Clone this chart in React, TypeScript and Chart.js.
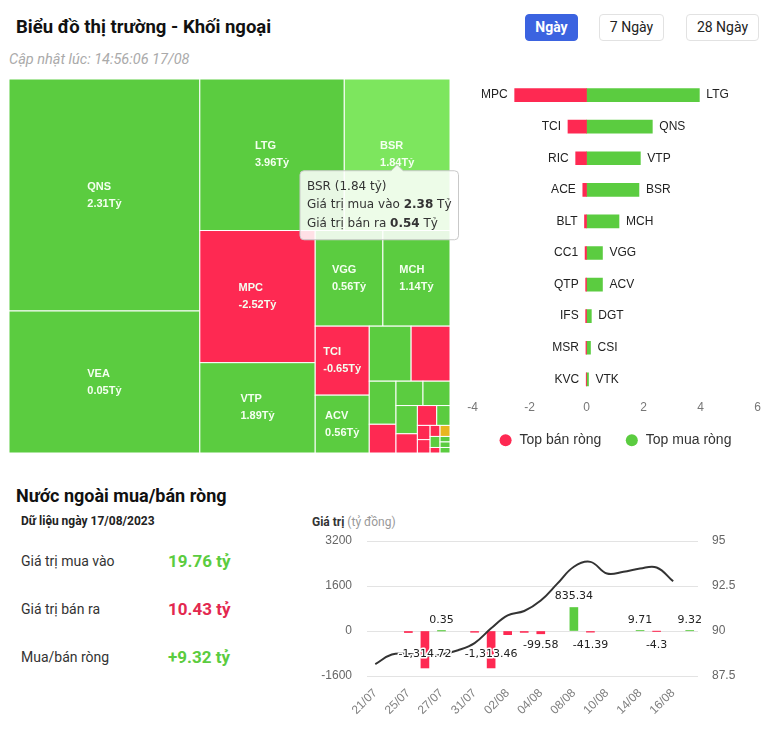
import React, { useEffect, useRef } from "react";
import { Chart, registerables } from "chart.js";
Chart.register(...registerables);

// ---------------- DATA ----------------
// Treemap (size = total traded value, colour = net value), tỷ đồng
const tmNames = ["QNS", "VEA", "LTG", "BSR", "MPC", "VTP", "VGG", "MCH", "TCI", "ACV", "DGT", "RIC", "CSI", "ACE", "VTK", "", "", "BLT", "CC1", "", "QTP", "IFS", "MSR", "", "", "KVC", "", "", ""];
const tmTotals = [8.07, 4.94, 3.99, 2.92, 2.78, 1.9, 1.18, 1.17, 0.68, 0.57, 0.42, 0.39, 0.21, 0.14, 0.12, 0.12, 0.11, 0.075, 0.07, 0.048, 0.033, 0.031, 0.02, 0.02, 0.02, 0.01, 0.01, 0.01, 0.01];
const tmNets = [2.31, 0.05, 3.96, 1.84, -2.52, 1.89, 0.56, 1.14, -0.65, 0.56, 0.17, -0.38, 0.14, -0.13, 0.07, 0.04, 0.03, -0.07, -0.05, 0.02, -0.03, -0.03, -0.02, 0, 0.01, -0.01, 0.01, 0.01, 0.01];
const tmHovered = "BSR";

// Top net sellers / buyers
const sellNames = ["MPC", "TCI", "RIC", "ACE", "BLT", "CC1", "QTP", "IFS", "MSR", "KVC"];
const sellValues = [-2.52, -0.65, -0.38, -0.13, -0.07, -0.05, -0.03, -0.03, -0.02, -0.01];
const buyNames = ["LTG", "QNS", "VTP", "BSR", "MCH", "VGG", "ACV", "DGT", "CSI", "VTK"];
const buyValues = [3.96, 2.31, 1.89, 1.84, 1.14, 0.56, 0.56, 0.17, 0.14, 0.07];

// Daily foreign net value (bars) and index (line)
const dates = ["21/07", "24/07", "25/07", "26/07", "27/07", "28/07", "31/07", "01/08", "02/08", "03/08", "04/08", "07/08", "08/08", "09/08", "10/08", "11/08", "14/08", "15/08", "16/08", "17/08"];
const netValues: (number | null)[] = [null, null, -55, -1314.72, 0.35, null, -45, -1313.46, -130, -50, -99.58, null, 835.34, -41.39, null, null, 9.71, -4.3, null, 9.32];
const indexValues: (number | null)[] = [88.16, 88.69, 88.72, 88.6, 88.7, 88.93, 89.33, 90.15, 90.87, 91.11, 91.69, 92.63, 93.57, 93.84, 93.19, 93.29, 93.47, 93.53, 92.76, null];
const labelledDates = ["26/07", "27/07", "01/08", "04/08", "08/08", "09/08", "14/08", "15/08", "17/08"];

// Summary
const summaryDate = "17/08/2023";
const buyTotal = 19.76;
const sellTotal = 10.43;
const netTotal = 9.32;

// ---------------- STYLE ----------------
const GREEN = "#5bcc40";
const HOVER_GREEN = "#7de65e";
const RED = "#fe2952";
const YELLOW = "#e9b61f";
const SANS = "'Liberation Sans', Arial, sans-serif";
const DEJAVU = "'DejaVu Sans', sans-serif";

type R = { x: number; y: number; w: number; h: number };
function squarify(values: number[], W: number, H: number): R[] {
  const total = values.reduce((s, v) => s + v, 0);
  const areas = values.map((v) => (v * W * H) / total);
  const out: R[] = [];
  let x = 0, y = 0, w = W, h = H, i = 0;
  const worst = (row: number[], s: number) => {
    const sum = row.reduce((a, b) => a + b, 0);
    const mx = Math.max(...row), mn = Math.min(...row);
    return Math.max((s * s * mx) / (sum * sum), (sum * sum) / (s * s * mn));
  };
  while (i < areas.length) {
    const s = Math.min(w, h);
    let row = [areas[i]];
    let j = i + 1;
    while (j < areas.length) {
      const cand = row.concat(areas[j]);
      if (worst(cand, s) > worst(row, s)) break;
      row = cand;
      j++;
    }
    const sum = row.reduce((a, b) => a + b, 0);
    if (w >= h) {
      const cw = sum / h;
      let yy = y;
      for (const a of row) { const hh = a / cw; out.push({ x, y: yy, w: cw, h: hh }); yy += hh; }
      x += cw; w -= cw;
    } else {
      const rh = sum / w;
      let xx = x;
      for (const a of row) { const ww = a / rh; out.push({ x: xx, y, w: ww, h: rh }); xx += ww; }
      y += rh; h -= rh;
    }
    i = j;
  }
  return out;
}

const treemapPlugin = {
  id: "treemapCells",
  afterDatasetsDraw(chart: any) {
    const { ctx, chartArea: a, scales } = chart;
    const W = a.right - a.left, H = a.bottom - a.top;
    const rects = squarify(tmTotals, W, H);
    const xs = scales.x, ys = scales.y;
    let hov: any = null;
    ctx.save();
    rects.forEach((r, i) => {
      const x0 = xs.getPixelForValue(r.x / W), x1 = xs.getPixelForValue((r.x + r.w) / W);
      const y0 = ys.getPixelForValue(r.y / H), y1 = ys.getPixelForValue((r.y + r.h) / H);
      const net = tmNets[i];
      let col = net > 0 ? GREEN : net < 0 ? RED : YELLOW;
      if (tmNames[i] === tmHovered) col = HOVER_GREEN;
      ctx.fillStyle = col;
      ctx.fillRect(x0, y0, x1 - x0, y1 - y0);
      ctx.strokeStyle = "#ffffff";
      ctx.lineWidth = 1;
      ctx.strokeRect(x0, y0, x1 - x0, y1 - y0);
      const cw = x1 - x0, chh = y1 - y0;
      if (cw >= 50 && chh >= 40 && tmNames[i]) {
        ctx.font = `bold 11px ${SANS}`;
        const l1 = tmNames[i], l2 = net.toFixed(2) + "Tỷ";
        const mw = Math.max(ctx.measureText(l1).width, ctx.measureText(l2).width);
        const cx = (x0 + x1) / 2, cy = (y0 + y1) / 2;
        ctx.fillStyle = "#f4fff0";
        ctx.textAlign = "left";
        ctx.textBaseline = "middle";
        ctx.fillText(l1, cx - mw / 2, cy - 8.5);
        ctx.fillText(l2, cx - mw / 2, cy + 8.5);
      }
      if (tmNames[i] === tmHovered) hov = { cx: (x0 + x1) / 2, cy: (y0 + y1) / 2, i };
    });
    ctx.restore();
    if (hov) drawTooltip(ctx, hov.cx, hov.cy + 10, chart.width, hov.i);
  },
};

function drawTooltip(ctx: CanvasRenderingContext2D, cx: number, tipY: number, canvasW: number, i: number) {
  const total = tmTotals[i], net = tmNets[i];
  const buy = (total + net) / 2, sell = (total - net) / 2;
  const lines = [
    [{ t: `${tmNames[i]} (${net.toFixed(2)} tỷ)`, b: false }],
    [{ t: "Giá trị mua vào ", b: false }, { t: buy.toFixed(2), b: true }, { t: " Tỷ", b: false }],
    [{ t: "Giá trị bán ra ", b: false }, { t: sell.toFixed(2), b: true }, { t: " Tỷ", b: false }],
  ];
  const font = (b: boolean) => `${b ? "bold " : ""}12px ${DEJAVU}`;
  ctx.save();
  let maxW = 0;
  lines.forEach((ln) => {
    let w = 0;
    ln.forEach((p) => { ctx.font = font(p.b); w += ctx.measureText(p.t).width; });
    maxW = Math.max(maxW, w);
  });
  const bw = maxW + 14, bh = 69, caret = 6, rad = 4;
  let bx = cx - bw / 2;
  if (bx + bw > canvasW - 1.5) bx = canvasW - 1.5 - bw;
  const by = tipY + caret;
  ctx.beginPath();
  ctx.moveTo(bx + rad, by);
  ctx.lineTo(cx - caret, by);
  ctx.lineTo(cx, by - caret);
  ctx.lineTo(cx + caret, by);
  ctx.lineTo(bx + bw - rad, by);
  ctx.quadraticCurveTo(bx + bw, by, bx + bw, by + rad);
  ctx.lineTo(bx + bw, by + bh - rad);
  ctx.quadraticCurveTo(bx + bw, by + bh, bx + bw - rad, by + bh);
  ctx.lineTo(bx + rad, by + bh);
  ctx.quadraticCurveTo(bx, by + bh, bx, by + bh - rad);
  ctx.lineTo(bx, by + rad);
  ctx.quadraticCurveTo(bx, by, bx + rad, by);
  ctx.closePath();
  ctx.fillStyle = "rgba(255,255,255,0.86)";
  ctx.fill();
  ctx.strokeStyle = "#c9c9c9";
  ctx.lineWidth = 1;
  ctx.stroke();
  ctx.fillStyle = "#333";
  ctx.textBaseline = "middle";
  ctx.textAlign = "left";
  lines.forEach((ln, k) => {
    let x = bx + 7;
    const y = by + 16 + k * 18.5;
    ln.forEach((p) => { ctx.font = font(p.b); ctx.fillText(p.t, x, y); x += ctx.measureText(p.t).width; });
  });
  ctx.restore();
}

const barNamePlugin = {
  id: "barNames",
  beforeDraw(chart: any) {
    // place the legend row at a fixed distance below the plot area
    const lg = chart.legend;
    if (!lg) return;
    const pad = lg.options.labels.padding;
    const desiredCenter = chart.chartArea.bottom + 45.2;
    const currentCenter = lg.top + pad + 7;
    const d = desiredCenter - currentCenter;
    lg.top += d;
    lg.bottom += d;
  },
  afterDatasetsDraw(chart: any) {
    const { ctx } = chart;
    const m0 = chart.getDatasetMeta(0), m1 = chart.getDatasetMeta(1);
    ctx.save();
    ctx.font = `12px ${SANS}`;
    ctx.fillStyle = "#222";
    ctx.textBaseline = "middle";
    sellNames.forEach((n, i) => {
      const el = m0.data[i];
      ctx.textAlign = "right";
      ctx.fillText(n, Math.min(el.x, el.base) - 7, el.y);
    });
    buyNames.forEach((n, i) => {
      const el = m1.data[i];
      ctx.textAlign = "left";
      ctx.fillText(n, Math.max(el.x, el.base) + 7, el.y);
    });
    ctx.restore();
  },
};

const valueLabelPlugin = {
  id: "valueLabels",
  afterDatasetsDraw(chart: any) {
    const { ctx } = chart;
    const meta = chart.getDatasetMeta(1);
    const zero = chart.scales.y.getPixelForValue(0);
    ctx.save();
    ctx.font = `11px ${DEJAVU}`;
    ctx.textAlign = "center";
    ctx.textBaseline = "middle";
    ctx.lineJoin = "round";
    netValues.forEach((v, i) => {
      if (v === null || !labelledDates.includes(dates[i])) return;
      const el = meta.data[i];
      const txt = v.toLocaleString("en-US", { maximumFractionDigits: 2 });
      let y: number;
      if (v >= 0) y = Math.min(el.y, zero) - 11;
      else y = Math.max(zero + 14, (el.y + zero) / 2 + 5);
      ctx.strokeStyle = "#fff";
      ctx.lineWidth = 3;
      ctx.strokeText(txt, el.x, y);
      ctx.fillStyle = "#222";
      ctx.fillText(txt, el.x, y);
    });
    ctx.restore();
  },
};

function TreemapChart() {
  const ref = useRef<HTMLCanvasElement>(null);
  useEffect(() => {
    const c = new Chart(ref.current!, {
      type: "scatter",
      data: { datasets: [{ data: [] }] },
      options: {
        animation: false,
        responsive: false,
        maintainAspectRatio: false,
        events: [],
        layout: { padding: { left: 9, right: 10, top: 4, bottom: 0 } },
        plugins: { legend: { display: false }, tooltip: { enabled: false } },
        scales: {
          x: { type: "linear", min: 0, max: 1, display: false },
          y: { type: "linear", min: 0, max: 1, reverse: true, display: false },
        },
      },
      plugins: [treemapPlugin],
    } as any);
    return () => c.destroy();
  }, []);
  return <canvas ref={ref} width={460} height={378} style={{ position: "absolute", left: 0, top: 75, width: 460, height: 378 }} />;
}

function TopBarChart() {
  const ref = useRef<HTMLCanvasElement>(null);
  useEffect(() => {
    const c = new Chart(ref.current!, {
      type: "bar",
      data: {
        labels: buyNames,
        datasets: [
          { label: "Top bán ròng", data: sellValues, backgroundColor: RED, barThickness: 13 },
          { label: "Top mua ròng", data: buyValues, backgroundColor: GREEN, barThickness: 13 },
        ],
      },
      options: {
        animation: false,
        responsive: false,
        maintainAspectRatio: false,
        indexAxis: "y",
        events: [],
        layout: { padding: { left: 12.5, right: 12.5, top: 4.3, bottom: 0 } },
        plugins: {
          tooltip: { enabled: false },
          legend: {
            position: "bottom",
            labels: { usePointStyle: true, pointStyle: "circle", boxWidth: 14, boxHeight: 8.5, padding: 23.5, color: "#333", font: { size: 14, family: SANS } },
          },
        },
        scales: {
          x: {
            stacked: true, min: -4, max: 6,
            ticks: { stepSize: 2, color: "#777", font: { size: 12, family: SANS }, padding: 5 },
            grid: { display: false, drawTicks: false },
            border: { display: false },
          },
          y: { stacked: true, display: false },
        },
      },
      plugins: [barNamePlugin],
    } as any);
    return () => c.destroy();
  }, []);
  return <canvas ref={ref} width={310} height={392} style={{ position: "absolute", left: 460, top: 75, width: 310, height: 392 }} />;
}

function NetFlowChart() {
  const ref = useRef<HTMLCanvasElement>(null);
  useEffect(() => {
    const c = new Chart(ref.current!, {
      type: "bar",
      data: {
        labels: dates,
        datasets: [
          { type: "line", label: "Chỉ số", data: indexValues, yAxisID: "y1", borderColor: "#333", borderWidth: 2, pointRadius: 0, tension: 0.4, fill: false },
          { type: "bar", label: "Giá trị", data: netValues, yAxisID: "y", backgroundColor: netValues.map((v) => ((v ?? 0) >= 0 ? GREEN : RED)), barThickness: 8 },
        ],
      },
      options: {
        animation: false,
        responsive: false,
        maintainAspectRatio: false,
        events: [],
        layout: { padding: { top: 11, left: 0, right: 0, bottom: 0 } },
        plugins: { legend: { display: false }, tooltip: { enabled: false } },
        scales: {
          x: {
            grid: { display: false, drawTicks: false },
            border: { display: false },
            ticks: { autoSkip: false, maxRotation: 45, minRotation: 45, color: "#808080", font: { size: 12, family: SANS }, padding: 10, callback: (_v: any, i: number) => (i % 2 === 0 ? dates[i] : "") },
            afterFit: (s: any) => { s.height = 56; },
          },
          y: {
            position: "left", min: -1600, max: 3200,
            ticks: { stepSize: 1600, color: "#666", font: { size: 12, family: SANS }, padding: 3, callback: (v: any) => String(v) },
            grid: { color: "#e3e3e3", drawTicks: true, tickLength: 12, tickColor: "rgba(0,0,0,0)" },
            border: { display: false },
            afterFit: (s: any) => { s.width = 67; },
          },
          y1: {
            position: "right", min: 87.5, max: 95,
            ticks: { stepSize: 2.5, color: "#666", font: { size: 12, family: SANS }, padding: 3, callback: (v: any) => String(v) },
            grid: { display: false, drawTicks: true, tickLength: 11, tickColor: "rgba(0,0,0,0)" },
            border: { display: false },
            afterFit: (s: any) => { s.width = 72; },
          },
        },
      },
      plugins: [valueLabelPlugin],
    } as any);
    return () => c.destroy();
  }, []);
  return <canvas ref={ref} width={470} height={202} style={{ position: "absolute", left: 300, top: 530, width: 470, height: 202 }} />;
}

const abs = (s: React.CSSProperties): React.CSSProperties => ({ position: "absolute", whiteSpace: "nowrap", ...s });
const fmt = (v: number) => v.toFixed(2);

export default function App() {
  const btn = (left: number, width: number, label: string, active: boolean) => (
    <div style={abs({ left, top: 14, width, height: 27, boxSizing: "border-box", borderRadius: 4, border: active ? "1px solid #3b63e0" : "1px solid #e2e2e2", background: active ? "#3b63e0" : "#fff", color: active ? "#fff" : "#222", fontWeight: active ? 700 : 400, fontSize: 14, lineHeight: "25px", textAlign: "center", fontFamily: "Roboto, sans-serif" })}>{label}</div>
  );
  return (
    <div style={{ position: "absolute", left: 0, top: 0, width: 770, height: 732, overflow: "hidden", background: "#fff", fontFamily: "Roboto, sans-serif" }}>
      <div style={abs({ left: 16, top: 16, fontSize: 18.5, fontWeight: 700, lineHeight: "22px", color: "#111" })}>Biểu đồ thị trường - Khối ngoại</div>
      <div style={abs({ left: 9, top: 51, fontSize: 14.5, fontStyle: "italic", lineHeight: "18px", color: "#aaa" })}>Cập nhật lúc: 14:56:06 17/08</div>
      {btn(525, 53, "Ngày", true)}
      {btn(599, 65, "7 Ngày", false)}
      {btn(686, 73, "28 Ngày", false)}
      <TreemapChart />
      <TopBarChart />
      <div style={abs({ left: 16, top: 485, fontSize: 18, fontWeight: 700, lineHeight: "22px", color: "#111" })}>Nước ngoài mua/bán ròng</div>
      <div style={abs({ left: 21, top: 513, fontSize: 12, fontWeight: 700, lineHeight: "16px", color: "#222" })}>Dữ liệu ngày {summaryDate}</div>
      <div style={abs({ left: 21, top: 552, fontSize: 14, lineHeight: "18px", color: "#333" })}>Giá trị mua vào</div>
      <div style={abs({ left: 168, top: 550, fontSize: 17, fontWeight: 700, lineHeight: "22px", color: GREEN })}>{fmt(buyTotal)} tỷ</div>
      <div style={abs({ left: 21, top: 600, fontSize: 14, lineHeight: "18px", color: "#333" })}>Giá trị bán ra</div>
      <div style={abs({ left: 168, top: 598, fontSize: 17, fontWeight: 700, lineHeight: "22px", color: "#e3284f" })}>{fmt(sellTotal)} tỷ</div>
      <div style={abs({ left: 21, top: 648, fontSize: 14, lineHeight: "18px", color: "#333" })}>Mua/bán ròng</div>
      <div style={abs({ left: 168, top: 646, fontSize: 17, fontWeight: 700, lineHeight: "22px", color: GREEN })}>{(netTotal >= 0 ? "+" : "") + fmt(netTotal)} tỷ</div>
      <div style={abs({ left: 312, top: 514, fontSize: 12, lineHeight: "16px", color: "#999" })}>
        <span style={{ fontWeight: 700, color: "#333" }}>Giá trị</span> (tỷ đồng)
      </div>
      <NetFlowChart />
    </div>
  );
}
